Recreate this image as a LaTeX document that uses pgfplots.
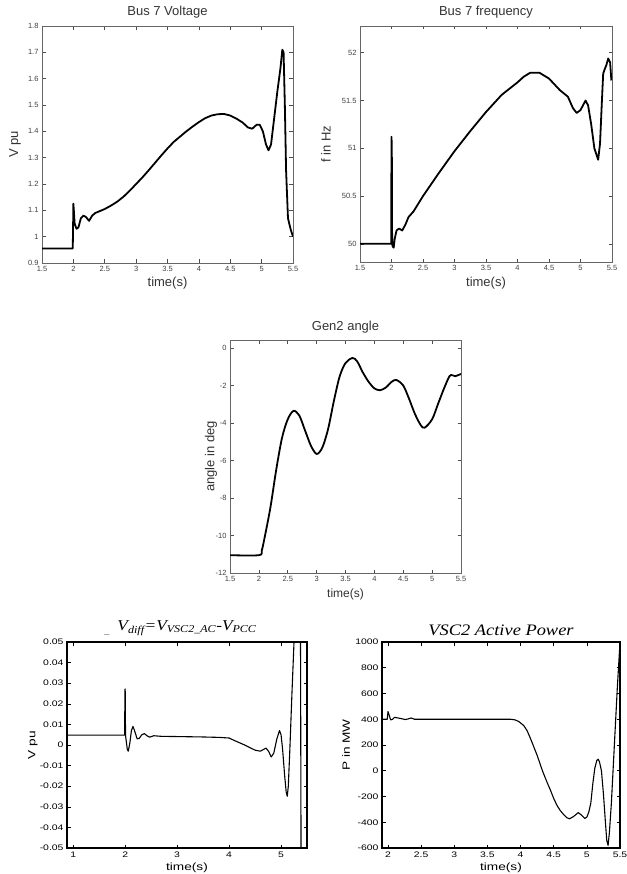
\documentclass[border=0pt]{standalone}
\usepackage{fontspec}
\setmainfont{Liberation Sans}
\newfontfamily\widesans[FakeStretch=1.3]{Liberation Sans}
\newfontfamily\tnr[FakeStretch=1.15]{Liberation Serif}
\usepackage{pgfplots}
\pgfplotsset{compat=1.18}

\pgfplotsset{
  mat/.style={
    scale only axis,
    tick align=inside,
    xtick pos=both, ytick pos=both,
    major tick length=3.5pt,
    every tick/.style={black!70, line width=0.6pt},
    axis line style={black!60, line width=0.8pt},
    tick label style={font=\fontsize{7.5}{8}\selectfont, black!75},
    label style={font=\fontsize{13}{14}\selectfont, black!80},
    title style={font=\fontsize{13}{14}\selectfont, black!80, anchor=center, yshift=-6pt},
    /pgf/number format/assume math mode=true,
    /pgf/number format/fixed,
    scaled ticks=false,
    no markers,
    every axis plot post/.append style={black, line width=1.8pt, line join=round},
  },
  mat2/.style={
    scale only axis,
    tick align=inside,
    xtick pos=both, ytick pos=both,
    major tick length=3.5pt,
    every tick/.style={black, line width=0.6pt},
    axis line style={black, line width=1.1pt},
    tick label style={font=\widesans\fontsize{8}{9}\selectfont, black},
    label style={font=\widesans\fontsize{10.5}{11}\selectfont, black},
    title style={font=\tnr\itshape\fontsize{16}{17}\selectfont, black, anchor=center, yshift=-6pt},
    /pgf/number format/assume math mode=true,
    /pgf/number format/fixed,
    scaled ticks=false,
    no markers,
    every axis plot post/.append style={black, line width=1.1pt, line join=round},
  },
}

\begin{document}
\begin{tikzpicture}
\useasboundingbox (0,0) rectangle (626pt,-874pt);

% Bus 7 Voltage
\begin{axis}[mat, at={(42pt,-263pt)}, anchor=south west,
  width=251pt, height=237pt,
  xmin=1.5, xmax=5.5, ymin=0.9, ymax=1.8,
  xtick={1.5,2,...,5.5}, ytick={0.9,1,...,1.8},
  yticklabel style={/pgf/number format/precision=1},
  title={Bus 7 Voltage}, title style={at={(0.5,1.059)}},
  xlabel={time(s)}, xlabel style={at={(axis description cs:0.5,-0.084)}, anchor=center},
  ylabel={V pu}, ylabel style={at={(axis description cs:-0.108,0.5)}, anchor=center}]
\addplot coordinates {
(1.5,0.955) (1.99,0.955) (1.995,1.03) (2.0,1.125) (2.01,1.09) (2.02,1.05) (2.05,1.03)
(2.08,1.035) (2.12,1.07) (2.16,1.08) (2.2,1.075) (2.25,1.06) (2.3,1.08) (2.35,1.09)
(2.4,1.095) (2.5,1.105) (2.6,1.118) (2.7,1.133) (2.8,1.152) (2.9,1.175) (3.0,1.2)
(3.1,1.225) (3.2,1.252) (3.3,1.28) (3.4,1.308) (3.5,1.335) (3.6,1.36) (3.7,1.38)
(3.8,1.4) (3.9,1.418) (4.0,1.435) (4.1,1.45) (4.2,1.46) (4.3,1.465) (4.4,1.466)
(4.5,1.46) (4.6,1.448) (4.7,1.433) (4.78,1.415) (4.85,1.41) (4.92,1.425) (4.97,1.425)
(5.02,1.4) (5.07,1.35) (5.11,1.328) (5.15,1.35) (5.2,1.45) (5.25,1.55) (5.3,1.64)
(5.33,1.71) (5.35,1.70) (5.37,1.5) (5.39,1.25) (5.42,1.07) (5.46,1.03) (5.5,1.0)
};
\end{axis}

% Bus 7 frequency
\begin{axis}[mat, at={(360pt,-262pt)}, anchor=south west,
  width=252pt, height=236pt,
  xmin=1.5, xmax=5.5, ymin=49.81, ymax=52.28,
  xtick={1.5,2,...,5.5}, ytick={50,50.5,...,52},
  title={Bus 7 frequency}, title style={at={(0.5,1.059)}},
  xlabel={time(s)}, xlabel style={at={(axis description cs:0.5,-0.089)}, anchor=center},
  ylabel={f in Hz}, ylabel style={at={(axis description cs:-0.135,0.5)}, anchor=center}]
\addplot coordinates {
(1.5,50) (1.995,50) (2.0,51.12) (2.005,51.0) (2.01,50.0) (2.02,49.97) (2.035,49.96)
(2.05,50.05) (2.08,50.14) (2.12,50.16) (2.17,50.14) (2.22,50.2) (2.27,50.28) (2.35,50.34)
(2.5,50.5) (2.75,50.74) (3.0,50.97) (3.25,51.18) (3.5,51.38) (3.75,51.56) (4.0,51.69)
(4.1,51.75) (4.2,51.79) (4.35,51.79) (4.5,51.73) (4.67,51.61) (4.8,51.54) (4.88,51.42)
(4.94,51.37) (5.0,51.4) (5.08,51.5) (5.12,51.45) (5.17,51.25) (5.22,51.0) (5.28,50.88)
(5.31,51.05) (5.34,51.5) (5.36,51.78) (5.38,51.82) (5.41,51.87) (5.44,51.94) (5.47,51.9)
(5.49,51.71)
};
\end{axis}

% Gen2 angle
\begin{axis}[mat, at={(230pt,-573pt)}, anchor=south west,
  width=231pt, height=233pt,
  xmin=1.5, xmax=5.5, ymin=-12, ymax=0.43,
  xtick={1.5,2,...,5.5}, ytick={-12,-10,...,0},
  title={Gen2 angle}, title style={at={(0.5,1.056)}},
  xlabel={time(s)}, xlabel style={at={(axis description cs:0.5,-0.09)}, anchor=center, font=\fontsize{12}{13}\selectfont},
  ylabel={angle in deg}, ylabel style={at={(axis description cs:-0.082,0.5)}, anchor=center}]
\addplot[smooth, tension=0.5] coordinates {
(1.5,-11.05) (2.0,-11.05) (2.05,-10.8) (2.1,-10.1) (2.2,-8.5) (2.3,-6.5) (2.4,-4.8)
(2.5,-3.8) (2.6,-3.35) (2.7,-3.6) (2.8,-4.4) (2.9,-5.2) (3.0,-5.65) (3.1,-5.3)
(3.2,-4.3) (3.3,-2.8) (3.4,-1.5) (3.5,-0.8) (3.62,-0.53) (3.7,-0.7) (3.8,-1.3)
(3.9,-1.8) (4.0,-2.15) (4.1,-2.25) (4.2,-2.1) (4.3,-1.8) (4.38,-1.7) (4.5,-2.0)
(4.6,-2.7) (4.7,-3.5) (4.8,-4.1) (4.87,-4.25) (5.0,-3.8) (5.1,-3.0) (5.2,-2.2)
(5.3,-1.5) (5.35,-1.45) (5.4,-1.5) (5.5,-1.38)
};
\end{axis}

% Vdiff
\begin{axis}[mat2, at={(67pt,-848pt)}, anchor=south west,
  width=240pt, height=206pt,
  xmin=0.88, xmax=5.5, ymin=-0.05, ymax=0.05,
  xtick={1,2,3,4,5}, ytick={-0.05,-0.04,...,0.05},
  yticklabel style={/pgf/number format/precision=2},
  title={V\textsubscript{diff}=V\textsubscript{VSC2\_AC}-V\textsubscript{PCC}},
  title style={at={(0.5,1.068)}, font=\tnr\itshape\fontsize{15}{16}\selectfont},
  xlabel={time(s)}, xlabel style={at={(axis description cs:0.5,-0.097)}, anchor=center},
  ylabel={V pu}, ylabel style={at={(axis description cs:-0.142,0.5)}, anchor=center}]
\addplot coordinates {
(0.88,0.0048) (1.99,0.0048) (1.995,0.027) (2.0,0.0272) (2.005,0.01) (2.01,0.004)
(2.04,-0.002) (2.06,-0.003) (2.09,0.001) (2.12,0.007) (2.15,0.009) (2.18,0.007)
(2.23,0.003) (2.27,0.0032) (2.32,0.005) (2.37,0.0055) (2.42,0.0045) (2.47,0.0038)
(2.55,0.0045) (2.7,0.0042) (3.0,0.0041) (3.5,0.0039) (3.8,0.0037) (4.0,0.0034)
(4.1,0.0022) (4.3,0.0) (4.5,-0.0025) (4.6,-0.003) (4.66,-0.0022) (4.71,-0.0015)
(4.76,-0.003) (4.81,-0.0058) (4.86,-0.004) (4.92,0.003) (4.97,0.007) (5.0,0.005)
(5.03,-0.002) (5.07,-0.015) (5.1,-0.023) (5.12,-0.0249) (5.14,-0.02) (5.17,-0.002)
(5.21,0.025) (5.25,0.05) (5.3,0.11) (5.34,0.14) (5.37,0.1) (5.39,-0.1) (5.43,-0.15)
(5.5,-0.18)
};
\end{axis}
\node[font=\fontsize{9}{9}\selectfont, black!60] at (107pt,-634pt) {\_};

% VSC2 Active Power
\begin{axis}[mat2, at={(382pt,-848pt)}, anchor=south west,
  width=238pt, height=206pt,
  xmin=1.91, xmax=5.5, ymin=-600, ymax=1000,
  xtick={2,2.5,...,5.5}, ytick={-600,-400,...,1000},
  yticklabel style={/pgf/number format/1000 sep={}},
  title={VSC2 Active Power}, title style={at={(0.5,1.058)}},
  xlabel={time(s)}, xlabel style={at={(axis description cs:0.5,-0.097)}, anchor=center},
  ylabel={P in MW}, ylabel style={at={(axis description cs:-0.151,0.5)}, anchor=center}]
\addplot coordinates {
(1.91,400) (1.99,400) (2.0,460) (2.02,430) (2.04,395) (2.07,400) (2.1,415) (2.15,410)
(2.2,405) (2.26,398) (2.3,402) (2.35,410) (2.4,400) (2.6,400) (3.0,400) (3.5,400)
(3.85,400) (3.92,395) (3.98,380) (4.05,350) (4.1,310) (4.15,250) (4.2,185) (4.25,120)
(4.33,0) (4.4,-90) (4.45,-150) (4.5,-215) (4.55,-270) (4.6,-310) (4.65,-340)
(4.7,-365) (4.74,-373) (4.8,-355) (4.87,-325) (4.92,-345) (4.97,-370) (5.0,-360)
(5.03,-320) (5.06,-250) (5.09,-100) (5.12,20) (5.15,80) (5.17,90) (5.19,70) (5.22,0)
(5.25,-180) (5.28,-400) (5.3,-540) (5.32,-580) (5.34,-480) (5.37,-250) (5.4,50)
(5.43,350) (5.46,650) (5.5,1000)
};
\end{axis}
\end{tikzpicture}
\end{document}
